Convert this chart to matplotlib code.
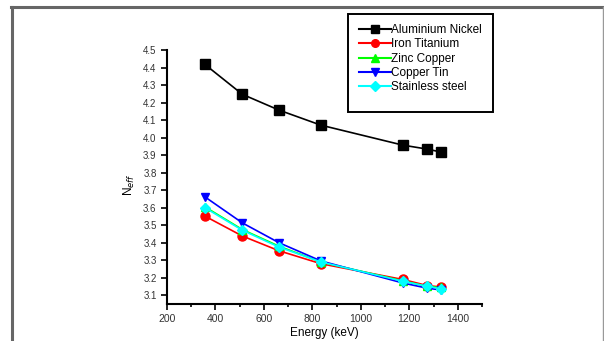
import matplotlib.pyplot as plt
from matplotlib.lines import Line2D
from matplotlib.patches import Rectangle
from matplotlib.ticker import MultipleLocator

energy = [356, 511, 662, 835, 1173, 1275, 1332]
al_ni = [4.418, 4.247, 4.157, 4.071, 3.957, 3.934, 3.917]
fe_ti = [3.552, 3.438, 3.354, 3.280, 3.190, 3.155, 3.147]
zn_cu = [3.605, 3.475, 3.380, 3.290, 3.182, 3.150, 3.145]
cu_sn = [3.662, 3.513, 3.400, 3.296, 3.170, 3.140, 3.130]
steel = [3.600, 3.471, 3.375, 3.290, 3.180, 3.151, 3.136]

series = [
    ('Aluminium Nickel', al_ni, 'black', 's'),
    ('Iron Titanium', fe_ti, 'red', 'o'),
    ('Zinc Copper', zn_cu, '#00ff00', '^'),
    ('Copper Tin', cu_sn, 'blue', 'v'),
    ('Stainless steel', steel, 'cyan', 'D'),
]

plt.rcParams['font.family'] = ['Liberation Sans', 'DejaVu Sans']

W, H = 604, 341
fig = plt.figure(figsize=(W/100, H/100), dpi=100)
# outer gray frame
fig.add_artist(Line2D([11.5/W, 11.5/W], [0, 1-7/H], color='#666666', lw=2.2))
fig.add_artist(Line2D([11/W, 603/W], [1-7/H, 1-7/H], color='#666666', lw=2.2))
fig.add_artist(Line2D([603/W, 603/W], [0, 1-7/H], color='#999999', lw=1))

ax = fig.add_axes([167/W, 1-304/H, (482-167)/W, (304-50)/H])
for name, vals, col, mk in series:
    ms = 6.5 if mk in ('s', 'o') else 5.5
    ax.plot(energy, vals, color=col, marker=mk, ms=ms, lw=1.2, label=name)

ax.set_xlim(200, 1500)
ax.set_ylim(3.05, 4.5)
ax.xaxis.set_major_locator(MultipleLocator(200))
ax.xaxis.set_minor_locator(MultipleLocator(100))
ax.set_yticks([3.1 + 0.1*i for i in range(15)])
ax.set_yticklabels(['%.1f' % (3.1 + 0.1*i) for i in range(15)])
ax.spines['top'].set_visible(False)
ax.spines['right'].set_visible(False)
ax.spines['left'].set_linewidth(1.5)
ax.spines['bottom'].set_linewidth(1.5)
ax.tick_params(which='major', direction='out', length=4, width=1.2, labelsize=7, colors='black')
ax.tick_params(which='minor', direction='out', length=2.5, width=1.2)
ax.tick_params(axis='x', labelsize=7.5)
for lbl in ax.get_yticklabels() + ax.get_xticklabels():
    lbl.set_color('#333333')

ax.set_xlabel('Energy (keV)', fontsize=8.5, labelpad=2)
ax.set_ylabel(r'N$_{eff}$', fontsize=8.5)
ax.yaxis.set_label_coords(-0.095, 0.47)

# legend box
fig.add_artist(Rectangle((348/W, 1-112/H), (493-348)/W, (112-14)/H, fill=False,
                         edgecolor='black', lw=1.4))
leg = fig.legend(loc='upper left', bbox_to_anchor=(359/W, 1-24/H), fontsize=8.5,
                 frameon=False, handlelength=2.7, handletextpad=0.05,
                 labelspacing=0.2, borderpad=0, borderaxespad=0)
for h in leg.legend_handles:
    h.set_markersize(5.5)
    h.set_linewidth(1.5)

fig.savefig('out.png', dpi=100)
